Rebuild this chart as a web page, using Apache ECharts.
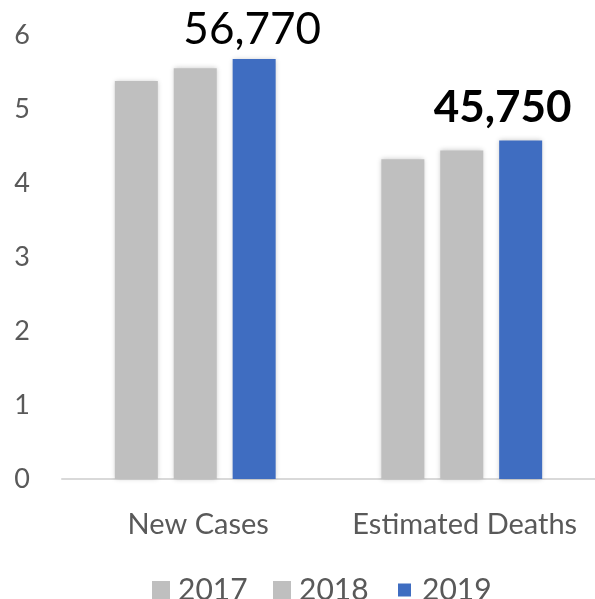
<!DOCTYPE html>
<html>
<head>
<meta charset="utf-8">
<script src="https://cdn.jsdelivr.net/npm/echarts@6/dist/echarts.min.js"></script>
<style>
  html, body { margin: 0; padding: 0; background: #ffffff; }
  #chart { width: 595px; height: 599px; }
</style>
</head>
<body>
<div id="chart"></div>
<script>
// Categories and yearly values (tens of thousands)
const categories = ['New Cases', 'Estimated Deaths'];
const years = ['2017', '2018', '2019'];
const values2017 = [5.38, 4.32];
const values2018 = [5.55, 4.44];
const values2019 = [5.677, 4.575];
const yTicks = [0, 1, 2, 3, 4, 5, 6];

const GRAY = '#bfbfbf';
const BLUE = '#3f6dc1';
const TEXT = '#595959';
const FONT = 'Lato, "Noto Sans", sans-serif';

function fmtCount(v) {
  return Math.round(v * 10000).toLocaleString('en-US');
}

const barShadow = { shadowBlur: 5, shadowColor: 'rgba(0,0,0,0.22)', shadowOffsetX: 0, shadowOffsetY: 0 };

const chart = echarts.init(document.getElementById('chart'), null, { renderer: 'canvas' });

const labelStyles = [
  { fontWeight: 'normal', offset: [-2, 0], distance: 7 },
  { fontWeight: 'bold', offset: [-18, 0], distance: 11 }
];

const legendText = { color: TEXT, fontSize: 30, fontFamily: FONT, lineHeight: 30 };

chart.setOption({
  animation: false,
  backgroundColor: '#ffffff',
  grid: { left: 62, right: 0, top: 35, bottom: 120, containLabel: false },
  xAxis: {
    type: 'category',
    data: categories,
    axisLine: { show: true, lineStyle: { color: '#d9d9d9', width: 2 } },
    axisTick: { show: false },
    axisLabel: {
      color: TEXT, fontSize: 29, fontFamily: FONT, margin: 31, interval: 0, hideOverlap: false,
      padding: [0, 0, 0, 6]
    }
  },
  yAxis: {
    type: 'value',
    min: yTicks[0],
    max: yTicks[yTicks.length - 1],
    interval: 1,
    axisLine: { show: false },
    axisTick: { show: false },
    splitLine: { show: false },
    axisLabel: { color: TEXT, fontSize: 27, fontFamily: FONT, margin: 32 }
  },
  legend: [
    { left: 152, top: 575, padding: 0, itemWidth: 18, itemHeight: 18, icon: 'rect', data: [years[0]],
      textStyle: Object.assign({ padding: [0, 0, 0, 3] }, legendText) },
    { left: 273, top: 575, padding: 0, itemWidth: 18, itemHeight: 18, icon: 'rect', data: [years[1]],
      textStyle: Object.assign({ padding: [0, 0, 0, 3] }, legendText) },
    { left: 398, top: 575, padding: 0, itemWidth: 13, itemHeight: 13, icon: 'rect', data: [years[2]],
      textStyle: Object.assign({ padding: [0, 0, 0, 6] }, legendText) }
  ],
  series: [
    {
      name: years[0], type: 'bar', data: values2017,
      barWidth: 43, barGap: '37%',
      itemStyle: Object.assign({ color: GRAY }, barShadow)
    },
    {
      name: years[1], type: 'bar', data: values2018,
      barWidth: 43, barGap: '37%',
      itemStyle: Object.assign({ color: GRAY }, barShadow)
    },
    {
      name: years[2], type: 'bar',
      barWidth: 43, barGap: '37%',
      itemStyle: Object.assign({ color: BLUE }, barShadow),
      data: values2019.map((v, i) => ({
        value: v,
        label: {
          show: true,
          position: 'top',
          formatter: p => fmtCount(p.value),
          color: '#000000',
          fontSize: 44,
          fontFamily: FONT,
          fontWeight: labelStyles[i].fontWeight,
          offset: labelStyles[i].offset,
          distance: labelStyles[i].distance
        }
      }))
    }
  ]
});
</script>
</body>
</html>
